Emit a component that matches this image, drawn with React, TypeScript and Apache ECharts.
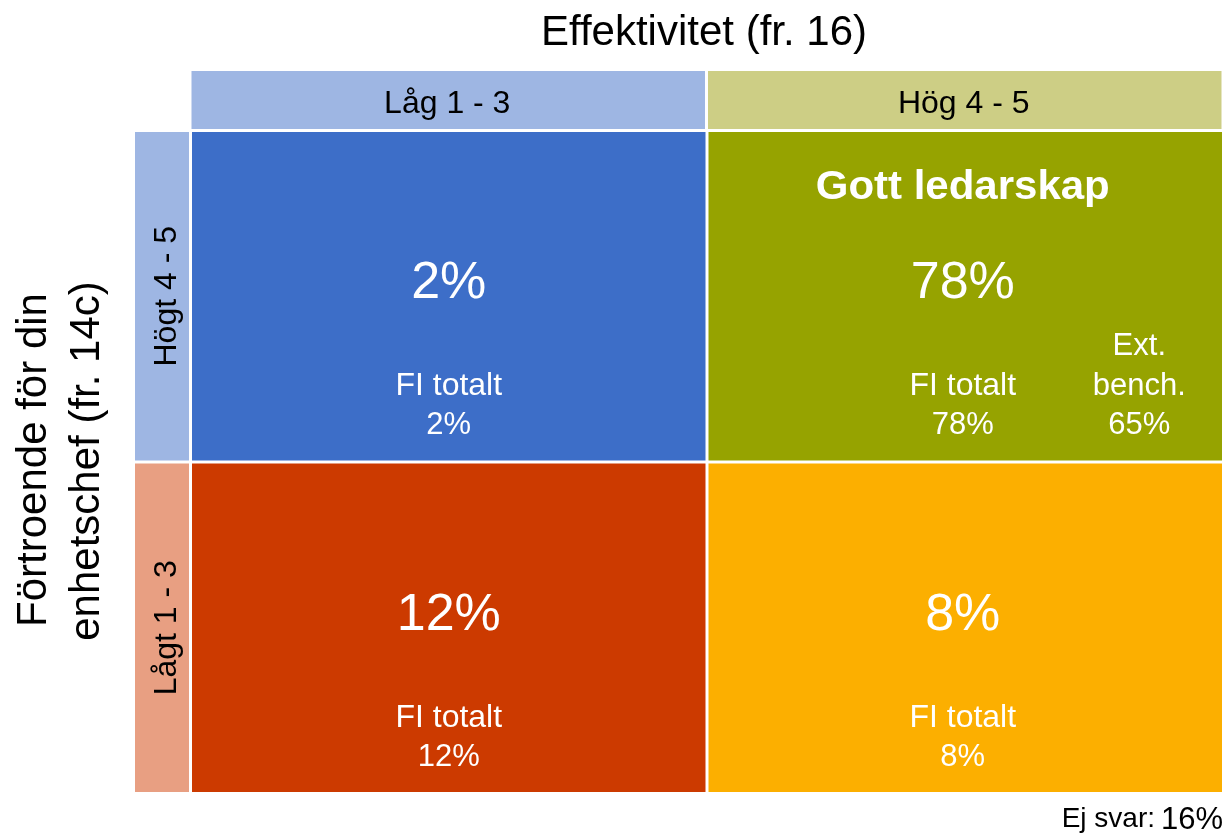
import React, { useEffect, useRef } from "react";
import * as echarts from "echarts";

const xCategories = ["Låg 1 - 3", "Hög 4 - 5"];
const yCategories = ["Lågt 1 - 3", "Högt 4 - 5"];
// [xIndex, yIndex, share %, FI totalt %]
const cellValues: number[][] = [
  [0, 1, 2, 2],
  [1, 1, 78, 78],
  [0, 0, 12, 12],
  [1, 0, 8, 8],
];
const cellColors = ["#3D6EC8", "#96A300", "#CC3A00", "#FCAF00"];
const extBenchValue = 65;
const highlightTitle = "Gott ledarskap";
const noAnswer = 16;

const FONT = "'Liberation Sans', Arial, sans-serif";

export default function App() {
  const ref = useRef<HTMLDivElement>(null);
  useEffect(() => {
    if (!ref.current) return;
    const chart = echarts.init(ref.current, null, { renderer: "svg" });

    const gridLeft = 190.5;
    const gridTop = 130.5;
    const gridW = 1033;
    const gridH = 663;
    const colW = gridW / 2;
    const rowH = gridH / 2;

    const graphics: any[] = [];
    // top header
    const headColors = ["#9EB6E3", "#CDCE85"];
    xCategories.forEach((c, i) => {
      const x0 = gridLeft + i * colW + 1;
      graphics.push({
        type: "rect",
        shape: { x: x0, y: 71, width: colW - 3, height: 58 },
        style: { fill: headColors[i] },
      });
      graphics.push({
        type: "text",
        x: x0 + (colW - 3) / 2 - 1,
        y: 102,
        style: { text: c, fill: "#000", font: `32px ${FONT}`, textAlign: "center", textVerticalAlign: "middle" },
      });
    });
    // side header
    const sideColors = ["#9EB6E3", "#E89F82"];
    [yCategories[1], yCategories[0]].forEach((c, i) => {
      const y0 = gridTop + i * rowH + 1.5;
      graphics.push({
        type: "rect",
        shape: { x: 135, y: y0, width: 54, height: rowH - 3 },
        style: { fill: sideColors[i] },
      });
      graphics.push({
        type: "text",
        x: 165,
        y: y0 + (rowH - 3) / 2,
        rotation: Math.PI / 2,
        style: { text: c, fill: "#000", font: `32px ${FONT}`, textAlign: "center", textVerticalAlign: "middle" },
      });
    });
    // axis titles
    graphics.push({
      type: "text",
      x: 704,
      y: 30,
      style: { text: "Effektivitet (fr. 16)", fill: "#000", font: `42px ${FONT}`, textAlign: "center", textVerticalAlign: "middle" },
    });
    graphics.push({
      type: "text",
      x: 31,
      y: 460,
      rotation: Math.PI / 2,
      style: { text: "Förtroende för din", fill: "#000", font: `42px ${FONT}`, textAlign: "center", textVerticalAlign: "middle" },
    });
    graphics.push({
      type: "text",
      x: 84,
      y: 461,
      rotation: Math.PI / 2,
      style: { text: "enhetschef (fr. 14c)", fill: "#000", font: `42px ${FONT}`, textAlign: "center", textVerticalAlign: "middle" },
    });
    // no answer
    graphics.push({
      type: "text",
      x: 1155,
      y: 817,
      style: { text: "Ej svar:", fill: "#000", font: `28px ${FONT}`, textAlign: "right", textVerticalAlign: "middle" },
    });
    graphics.push({
      type: "text",
      x: 1223,
      y: 818,
      style: { text: `${noAnswer}%`, fill: "#000", font: `31px ${FONT}`, textAlign: "right", textVerticalAlign: "middle" },
    });

    const option: any = {
      animation: false,
      grid: { left: gridLeft, top: gridTop, width: gridW, height: gridH },
      xAxis: { type: "category", data: xCategories, show: false },
      yAxis: { type: "category", data: yCategories, show: false },
      graphic: graphics,
      series: [
        {
          type: "custom",
          data: cellValues,
          renderItem: (params: any, api: any) => {
            const xi = api.value(0);
            const yi = api.value(1);
            const share = api.value(2);
            const fi = api.value(3);
            const c = api.coord([xi, yi]);
            const s = api.size([1, 1]);
            const left = c[0] - s[0] / 2;
            const top = c[1] - s[1] / 2;
            const cx = c[0] - (xi === 1 ? 2.5 : 0);
            const white = "#fff";
            const children: any[] = [
              {
                type: "rect",
                shape: { x: left + 1.5, y: top + 1.5, width: s[0] - 3, height: s[1] - 3 },
                style: { fill: cellColors[params.dataIndex] },
              },
              {
                type: "text",
                x: cx,
                y: top + s[1] * 0.452,
                style: { text: `${share}%`, fill: white, font: `52px ${FONT}`, textAlign: "center", textVerticalAlign: "middle" },
              },
              {
                type: "text",
                x: cx,
                y: top + s[1] * 0.765,
                style: { text: "FI totalt", fill: white, font: `32px ${FONT}`, textAlign: "center", textVerticalAlign: "middle" },
              },
              {
                type: "text",
                x: cx,
                y: top + s[1] * 0.885,
                style: { text: `${fi}%`, fill: white, font: `31px ${FONT}`, textAlign: "center", textVerticalAlign: "middle" },
              },
            ];
            if (xi === 1 && yi === 1) {
              children.push({
                type: "text",
                x: cx,
                y: top + 55,
                scaleX: 1.05,
                style: { text: highlightTitle, fill: white, font: `bold 40px ${FONT}`, textAlign: "center", textVerticalAlign: "middle" },
              });
              const bx = left + s[0] * 0.837;
              children.push({
                type: "text",
                x: bx,
                y: top + s[1] * 0.645,
                style: { text: "Ext.", fill: white, font: `31px ${FONT}`, textAlign: "center", textVerticalAlign: "middle" },
              });
              children.push({
                type: "text",
                x: bx,
                y: top + s[1] * 0.765,
                style: { text: "bench.", fill: white, font: `31px ${FONT}`, textAlign: "center", textVerticalAlign: "middle" },
              });
              children.push({
                type: "text",
                x: bx,
                y: top + s[1] * 0.885,
                style: { text: `${extBenchValue}%`, fill: white, font: `31px ${FONT}`, textAlign: "center", textVerticalAlign: "middle" },
              });
            }
            return { type: "group", children };
          },
        },
      ],
    };
    chart.setOption(option);
    return () => chart.dispose();
  }, []);
  return (
    <div
      ref={ref}
      style={{ position: "fixed", left: 0, top: 0, width: 1231, height: 834 }}
    />
  );
}
